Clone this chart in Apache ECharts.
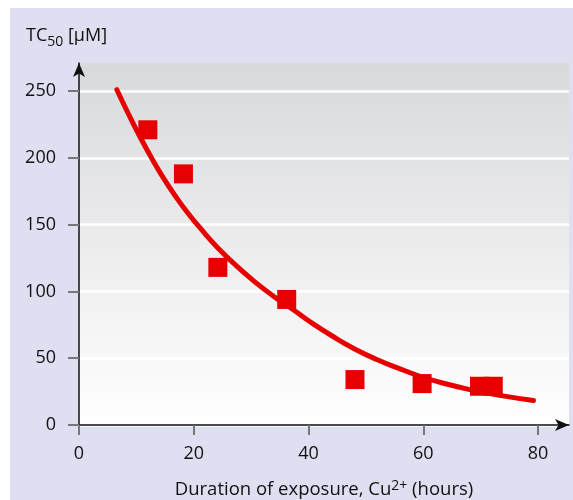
<!DOCTYPE html>
<html><head><meta charset="utf-8">
<script src="https://cdn.jsdelivr.net/npm/echarts@6/dist/echarts.min.js"></script>
<style>
html,body{margin:0;padding:0;background:#fff;}
#bg{position:absolute;left:10px;top:8px;width:563px;height:492px;background:#dee0f1;}
#chart{position:absolute;left:0;top:0;width:573px;height:500px;}
</style></head>
<body>
<div id="bg"></div>
<div id="chart"></div>
<script>
// Measured points
const pointX = [12, 18.2, 24.2, 36.2, 48.1, 59.8, 69.8, 72.2];
const pointY = [221, 188, 118, 94, 34, 31, 29, 29];
// Fitted curve as drawn
const curveX = [6.6, 8.6, 10.6, 12.7, 14.7, 16.7, 19.0, 21.4, 24.0, 27.2, 30.7, 34.2, 37.6, 40.2, 44.0, 47.8, 51.9, 55.4, 59.4, 62.9, 68.1, 73.9, 79.2];
const curveY = [251, 233, 216, 199.5, 185, 172, 158.5, 146, 133.5, 120, 107, 95.5, 85.5, 77.5, 67, 57.5, 49, 43, 36.5, 32, 26.5, 21.8, 18.3];
// Tick labels
const xTicks = [0, 20, 40, 60, 80];
const yTicks = [0, 50, 100, 150, 200, 250];

const chart = echarts.init(document.getElementById('chart'));
const font = '"Open Sans", "Noto Sans", sans-serif';
const red = '#e60000';
chart.setOption({
  animation: false,
  textStyle: {fontFamily: font},
  title: {
    text: '{a|TC}{s|50}{a| [µM]}',
    left: 21, top: 16,
    textStyle: {
      fontWeight: 'normal',
      rich: {
        a: {fontSize: 18, color: '#111', fontFamily: font, fontWeight: 'normal', lineHeight: 24, verticalAlign: 'bottom'},
        s: {fontSize: 14, color: '#111', fontFamily: font, fontWeight: 'normal', lineHeight: 16, verticalAlign: 'bottom', padding: [0,0,-4,0]}
      }
    }
  },
  grid: {
    left: 79, top: 63, right: 4, bottom: 75,
    outerBoundsMode: 'none', containLabel: false,
    show: true, borderWidth: 0,
    backgroundColor: new echarts.graphic.LinearGradient(0, 0, 0, 1, [
      {offset: 0, color: '#d8d9db'},
      {offset: 1, color: '#ffffff'}
    ])
  },
  xAxis: {
    type: 'value', min: 0, max: 85.4,
    name: '{a|Duration of exposure, Cu}{p|2+}{a| (hours)}',
    nameLocation: 'middle', nameGap: 52,
    nameTextStyle: {
      rich: {
        a: {fontSize: 18.5, color: '#111', fontFamily: font, lineHeight: 22, verticalAlign: 'bottom'},
        p: {fontSize: 14, color: '#111', fontFamily: font, lineHeight: 22, verticalAlign: 'bottom', padding: [0,0,6,0]}
      }
    },
    axisLine: {show: true, onZero: false, lineStyle: {color: '#111', width: 1.5}, symbol: ['none', 'arrow'], symbolSize: [9, 14]},
    axisTick: {show: true, length: 10, lineStyle: {color: '#777', width: 2}, customValues: xTicks},
    axisLabel: {fontSize: 18, color: '#111', margin: 20, customValues: xTicks},
    splitLine: {show: false}
  },
  yAxis: {
    type: 'value', min: 0, max: 271,
    axisLine: {show: true, onZero: false, lineStyle: {color: '#111', width: 1.5}, symbol: ['none', 'arrow'], symbolSize: [9, 14]},
    axisTick: {show: true, length: 11, lineStyle: {color: '#777', width: 2}, customValues: yTicks},
    axisLabel: {fontSize: 18, color: '#111', margin: 23, customValues: yTicks},
    splitLine: {show: true, lineStyle: {color: '#ffffff', width: 2.5}}
  },
  series: [
    {
      type: 'line', data: curveX.map((x, i) => [x, curveY[i]]),
      smooth: 0.5, showSymbol: false, symbol: 'none',
      lineStyle: {color: red, width: 5, cap: 'round'}, z: 2
    },
    {
      type: 'scatter', data: pointX.map((x, i) => [x, pointY[i]]),
      symbol: 'rect', symbolSize: 19,
      itemStyle: {color: red, opacity: 1}, z: 3
    }
  ]
});
</script>
</body></html>
